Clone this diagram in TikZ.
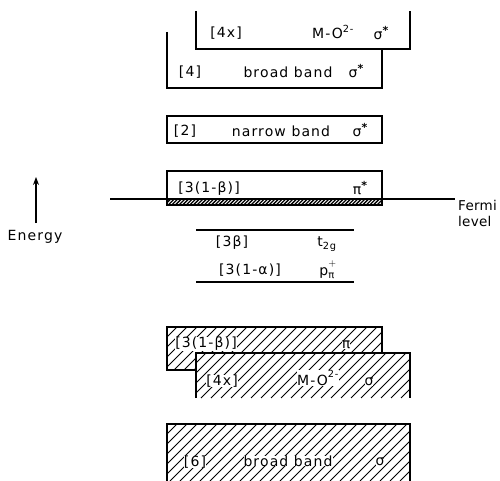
\documentclass[tikz,border=0pt]{standalone}
\usepackage{fontspec}
\setmainfont[LetterSpace=8]{DejaVu Sans}
\usetikzlibrary{arrows.meta}
\newcommand\hatchrect[5]{% x1,y1,x2,y2,step
  \begin{scope}
    \clip (#1,#2) rectangle (#3,#4);
    \fill[white] (#1,#2) rectangle (#3,#4);
    \pgfmathsetmacro\hstart{#1-(#4-#2)-#5}
    \pgfmathsetmacro\hnext{\hstart+#5}
    \foreach \hx in {\hstart,\hnext,...,#3}
      \draw[hline] (\hx,#4) -- ++(80,-80);
  \end{scope}}
\newcommand\bigstar{\raisebox{0.42em}{\fontsize{11}{11}\selectfont\bfseries *}}
\begin{document}
\begin{tikzpicture}[x=1pt,y=-1pt,line width=1.2pt,
  lbl/.style={font=\fontsize{14}{16}\selectfont,inner sep=0.6pt},
  hlbl/.style={lbl,fill=white,inner sep=0pt},
  hline/.style={line width=0.9pt}]
\useasboundingbox (0,0) rectangle (500,481);

% ---- top: [4x] M-O sigma* (open top)
\draw (196,11) -- (196,49) -- (410,49) -- (410,11);
\node[lbl] (a1) at (226,33) {[4x]};
\node[lbl] (a2) at (333,32) {M-O\textsuperscript{2-}};
\node[lbl] (a3) at (381,33) {σ\bigstar};

% ---- [4] broad band sigma*
\draw (167,32) -- (167,88) -- (382,88) -- (382,49);
\node[lbl] (b1) at (190,72) {[4]};
\node[lbl] (b2) at (288,72) {broad band};
\node[lbl] (b3) at (356,71) {σ\bigstar};

% ---- [2] narrow band sigma*
\draw (167,116) rectangle (382,143);
\node[lbl] (c1) at (185,131) {[2]};
\node[lbl] (c2) at (281,131) {narrow band};
\node[lbl] (c3) at (360,130) {σ\bigstar};

% ---- [3(1-beta)] pi*
\draw (167,171) rectangle (382,205);
\tikzset{hline/.style={line width=1.3pt}}
\hatchrect{167}{199}{382}{205}{3.6}
\tikzset{hline/.style={line width=0.9pt}}
\draw (167,199) rectangle (382,205);
\node[lbl] (d1) at (209,189) {[3(1-β)]};
\node[lbl] (d2) at (360,188) {π\bigstar};

% ---- Fermi level
\coordinate (f0) at (110,199);
\coordinate (f1) at (455,199);
\draw (f0) -- (f1);
\node[lbl,font=\fontsize{13.5}{16}\selectfont\addfontfeatures{LetterSpace=2},anchor=west,align=left] (fl) at (457,213) {Fermi\\level};

% ---- Energy arrow
\coordinate (e0) at (36,223);
\coordinate (e1) at (36,177);
\draw[-{Stealth[length=8pt,width=6pt]}] (e0) -- (e1);
\node[lbl] (en) at (35,237) {Energy};

% ---- t2g level
\coordinate (t0) at (196,230);
\coordinate (t1) at (354,230);
\draw (t0) -- (t1);
\node[lbl] (g1) at (232,243) {[3β]};
\node[lbl] (g2) at (327,244) {t\textsubscript{2g}};

% ---- p pi+ level
\coordinate (p0) at (196,282);
\coordinate (p1) at (354,282);
\draw (p0) -- (p1);
\node[lbl] (h1) at (250,270) {[3(1-α)]};
\node[lbl] (h2) at (328,270) {$\mathrm{p}^{+}_{\mbox{\fontsize{10}{10}\selectfont π}}$};

% ---- hatched [3(1-beta)] pi
\hatchrect{167}{327}{382}{370}{10}
\draw (167,327) rectangle (382,370);
\node[hlbl] (i1) at (206,344) {[3(1-β)]};
\node[hlbl] (i2) at (346,345) {π};

% ---- hatched [4x] M-O sigma (open bottom)
\hatchrect{196}{353}{410}{398}{10}
\draw (196,398) -- (196,353) -- (410,353) -- (410,398);
\node[hlbl] (j1) at (222,381) {[4x]};
\node[hlbl] (j2) at (318,378) {M-O\textsuperscript{2-}};
\node[hlbl] (j3) at (369,382) {σ};

% ---- hatched [6] broad band sigma (open bottom)
\hatchrect{167}{424}{410}{481}{10}
\draw (167,481) -- (167,424) -- (410,424) -- (410,481);
\node[hlbl] (k1) at (195,462) {[6]};
\node[hlbl] (k2) at (288,461) {broad band};
\node[hlbl] (k3) at (380,462) {σ};
\end{tikzpicture}
\end{document}
